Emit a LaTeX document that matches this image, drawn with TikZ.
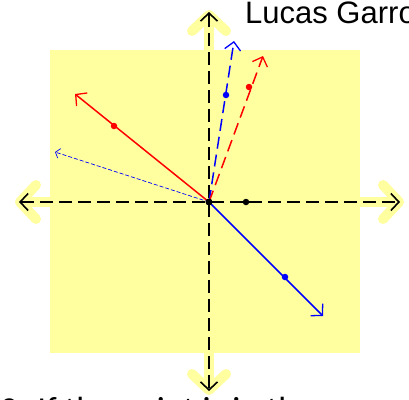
\documentclass[tikz,border=0pt]{standalone}
\usepackage{fontspec}
\setmainfont{Liberation Sans}
\newfontfamily\carl{Carlito}
\usetikzlibrary{arrows.meta}
\definecolor{hl}{RGB}{255,255,160}
\definecolor{myblue}{RGB}{0,0,255}
\definecolor{myred}{RGB}{255,0,0}
\tikzset{
  hlarrow/.style={draw=hl, line width=10pt,
    {Straight Barb[length=16pt,width=34pt,round]}-{Straight Barb[length=16pt,width=34pt,round]}},
  axis/.style={draw=black, line width=2pt, dash pattern=on 13pt off 6pt,
    {Straight Barb[length=8pt,width=17pt,line width=1.6pt]}-{Straight Barb[length=8pt,width=17pt,line width=1.6pt]}},
  vec/.style={line width=1.5pt, -{Straight Barb[length=8pt,width=17pt,line width=1.3pt]}},
  dvec/.style={line width=1.5pt, dash pattern=on 12pt off 6pt, -{Straight Barb[length=8pt,width=16pt,line width=1.3pt]}},
  thinvec/.style={line width=0.7pt, dash pattern=on 4pt off 2pt, -{Straight Barb[length=4pt,width=10pt,line width=0.7pt]}},
  dot/.style={circle, inner sep=0pt, minimum size=#1, fill},
}
\begin{document}
\begin{tikzpicture}[x=1pt,y=-1pt]
\useasboundingbox (0,0) rectangle (409,399);
\fill[hl] (50,50) rectangle (360,353);
% highlight axes
\coordinate (HL) at (15,202);
\coordinate (HR) at (404,202);
\coordinate (HT) at (209,10);
\coordinate (HB) at (209,395);
\draw[hlarrow] (HL) -- (HR);
\draw[hlarrow] (HT) -- (HB);
% axes
\coordinate (O) at (209,202);
\coordinate (AL) at (19,202);
\coordinate (AR) at (400,202);
\coordinate (AT) at (209,12);
\coordinate (AB) at (209,391);
\draw[axis] (AL) -- (AR);
\draw[axis] (AT) -- (AB);
% vectors
\coordinate (R1) at (75,94);
\coordinate (B1) at (323,316);
\coordinate (B2) at (234,41);
\coordinate (R2) at (263,56);
\coordinate (B3) at (55,152);
\draw[thinvec, myblue] (O) -- (B3);
\draw[vec, myred] (O) -- (R1);
\draw[vec, myblue] (O) -- (B1);
\draw[dvec, myblue] (O) -- (B2);
\draw[dvec, myred] (O) -- (R2);
% dots
\node[dot=7pt, black] (dO) at (O) {};
\node[dot=6.5pt, black] (dP) at (246,202) {};
\node[dot=6.5pt, myred] (dR1) at (114,126) {};
\node[dot=6.5pt, myblue] (dB1) at (285,277) {};
\node[dot=6.5pt, myblue] (dB2) at (226,95) {};
\node[dot=6.5pt, myred] (dR2) at (249,87) {};
% texts
\node[anchor=base west, inner sep=0pt, font=\fontsize{31}{31}\selectfont] (title) at (245,23) {Lucas Garro};
\node[anchor=base west, inner sep=0pt, font=\carl\fontsize{35}{35}\selectfont] (foot) at (0,421) {2. If the point is in the};
\end{tikzpicture}
\end{document}
